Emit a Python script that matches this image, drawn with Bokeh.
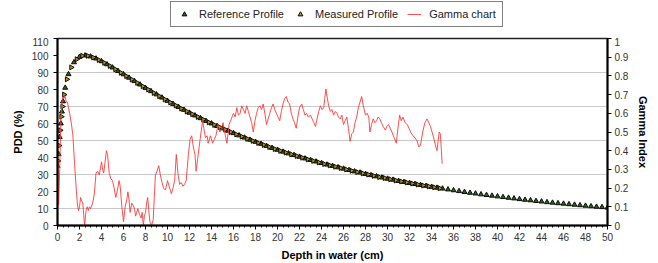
import math
from bokeh.plotting import figure
from bokeh.layouts import column
from bokeh.models import Range1d, LinearAxis, FixedTicker, Legend, LegendItem
from bokeh.embed import file_html
from bokeh.resources import INLINE

# ---------------- data ----------------
ref_depth = [0.0, 0.1, 0.2, 0.3, 0.4, 0.5, 0.7, 1.0, 1.5, 2.0, 2.5, 3.0, 3.5, 4.0, 4.5,
             5.0, 5.5, 6.0, 6.5, 7.0, 7.5, 8.0, 8.5, 9.0, 9.5, 10.0, 10.5, 11.0, 11.5,
             12.0, 12.5, 13.0, 13.5, 14.0, 14.5, 15.0, 15.5, 16.0, 16.5, 17.0, 17.5,
             18.0, 18.5, 19.0, 19.5, 20.0, 20.5, 21.0, 21.5, 22.0, 22.5, 23.0, 23.5,
             24.0, 24.5, 25.0, 25.5, 26.0, 26.5, 27.0, 27.5, 28.0, 28.5, 29.0, 29.5,
             30.0, 30.5, 31.0, 31.5, 32.0, 32.5, 33.0, 33.5, 34.0, 34.5, 35.0, 35.5,
             36.0, 36.5, 37.0, 37.5, 38.0, 38.5, 39.0, 39.5, 40.0, 40.5, 41.0, 41.5,
             42.0, 42.5, 43.0, 43.5, 44.0, 44.5, 45.0, 45.5, 46.0, 46.5, 47.0, 47.5,
             48.0, 48.5, 49.0, 49.5, 50.0]
ref_pdd = [35.0, 42.0, 52.0, 60.0, 67.0, 73.0, 81.0, 89.0, 96.0, 99.2, 100.0, 99.4, 98.2,
           96.6, 94.8, 92.9, 90.9, 88.9, 86.9, 84.9, 82.9, 80.9, 79.0, 77.1, 75.2, 73.3,
           71.5, 69.7, 68.0, 66.3, 64.7, 63.1, 61.5, 60.0, 58.5, 57.1, 55.7, 54.3, 53.0,
           51.7, 50.4, 49.2, 48.0, 46.8, 45.6, 44.5, 43.4, 42.4, 41.4, 40.4, 39.4, 38.5,
           37.6, 36.7, 35.8, 35.0, 34.2, 33.4, 32.6, 31.8, 31.1, 30.3, 29.6, 28.9, 28.2,
           27.5, 26.9, 26.2, 25.6, 25.0, 24.4, 23.8, 23.3, 22.7, 22.2, 21.7, 21.2, 20.7,
           20.2, 19.7, 19.2, 18.8, 18.3, 17.9, 17.5, 17.1, 16.7, 16.3, 15.9, 15.5, 15.1,
           14.8, 14.4, 14.1, 13.7, 13.4, 13.1, 12.8, 12.5, 12.2, 11.9, 11.6, 11.3, 11.0,
           10.8, 10.5]

meas_depth = [0.05, 0.15, 0.25, 0.35, 0.45, 0.6, 0.85, 1.25, 1.75, 2.25, 2.75, 3.25, 3.75,
              4.25, 4.75, 5.25, 5.75, 6.25, 6.75, 7.25, 7.75, 8.25, 8.75, 9.25, 9.75,
              10.25, 10.75, 11.25, 11.75, 12.25, 12.75, 13.25, 13.75, 14.25, 14.75,
              15.25, 15.75, 16.25, 16.75, 17.25, 17.75, 18.25, 18.75, 19.25, 19.75,
              20.25, 20.75, 21.25, 21.75, 22.25, 22.75, 23.25, 23.75, 24.25, 24.75,
              25.25, 25.75, 26.25, 26.75, 27.25, 27.75, 28.25, 28.75, 29.25, 29.75,
              30.25, 30.75, 31.25, 31.75, 32.25, 32.75, 33.25, 33.75, 34.25, 34.75]
meas_pdd = [38.0, 47.0, 56.0, 64.0, 70.0, 77.0, 86.0, 93.0, 97.8, 99.8, 99.8, 98.8, 97.4,
            95.7, 93.9, 91.9, 89.9, 87.9, 85.9, 83.9, 81.9, 80.0, 78.0, 76.1, 74.2, 72.4,
            70.6, 68.8, 67.1, 65.5, 63.9, 62.3, 60.7, 59.2, 57.8, 56.4, 55.0, 53.6, 52.3,
            51.0, 49.8, 48.6, 47.4, 46.2, 45.0, 43.9, 42.9, 41.9, 40.9, 39.9, 38.9, 38.0,
            37.1, 36.2, 35.4, 34.6, 33.8, 33.0, 32.2, 31.4, 30.7, 30.0, 29.2, 28.5, 27.9,
            27.2, 26.5, 25.9, 25.3, 24.7, 24.1, 23.5, 23.0, 22.5, 21.9]

gamma_depth = [0.0, 0.05, 0.1, 0.2, 0.3, 0.4, 0.5, 0.6, 0.7, 0.8, 0.9, 1.0, 1.1, 1.25, 1.4,
               1.55, 1.7, 1.8, 1.9, 2.0, 2.1, 2.2, 2.3, 2.46, 2.6, 2.7, 2.8, 2.9, 3.0, 3.2,
               3.35, 3.5, 3.65, 3.8, 4.0, 4.1, 4.2, 4.3, 4.45, 4.55, 4.7, 4.85, 5.0, 5.15,
               5.3, 5.45, 5.6, 5.7, 5.85, 6.0, 6.15, 6.3, 6.4, 6.5, 6.6, 6.75, 6.86, 7.0,
               7.1, 7.2, 7.3, 7.45, 7.6, 7.7, 7.8, 7.9, 8.0, 8.1, 8.2, 8.3, 8.4, 8.55, 8.7,
               8.8, 8.9, 9.05, 9.2, 9.35, 9.5, 9.65, 9.8, 9.9, 10.0, 10.2, 10.35, 10.5,
               10.65, 10.8, 10.95, 11.1, 11.25, 11.4, 11.55, 11.7, 11.9, 12.05, 12.2,
               12.35, 12.5, 12.6, 12.75, 12.9, 13.05, 13.2, 13.3, 13.45, 13.6, 13.7, 13.9,
               14.1, 14.25, 14.4, 14.6, 14.75, 14.9, 15.05, 15.2, 15.4, 15.6, 15.8, 16.0,
               16.15, 16.3, 16.45, 16.6, 16.75, 16.9, 17.05, 17.2, 17.35, 17.5, 17.65,
               17.8, 17.95, 18.1, 18.25, 18.4, 18.55, 18.7, 18.85, 19.0, 19.15, 19.3,
               19.45, 19.6, 19.75, 19.9, 20.05, 20.2, 20.35, 20.5, 20.65, 20.8, 20.95,
               21.1, 21.25, 21.4, 21.55, 21.7, 21.85, 22.0, 22.2, 22.35, 22.5, 22.65,
               22.8, 23.0, 23.15, 23.3, 23.45, 23.6, 23.75, 23.9, 24.05, 24.2, 24.3, 24.4,
               24.5, 24.65, 24.8, 24.95, 25.1, 25.25, 25.4, 25.55, 25.7, 25.85, 26.0,
               26.15, 26.3, 26.45, 26.6, 26.75, 26.9, 27.05, 27.2, 27.35, 27.5, 27.65,
               27.8, 28.0, 28.15, 28.3, 28.4, 28.55, 28.7, 28.85, 29.0, 29.15, 29.3,
               29.45, 29.6, 29.8, 29.95, 30.1, 30.25, 30.4, 30.6, 30.8, 30.95, 31.1,
               31.25, 31.4, 31.6, 31.8, 31.95, 32.1, 32.3, 32.5, 32.7, 32.85, 33.0, 33.2,
               33.4, 33.6, 33.75, 33.9, 34.05, 34.2, 34.35, 34.5, 34.6, 34.7, 34.8, 34.9,
               34.97]
gamma_index = [0.25, 0.34, 0.11, 0.30, 0.55, 0.66, 0.69, 0.68, 0.69, 0.66, 0.66, 0.63, 0.60,
               0.55, 0.48, 0.33, 0.20, 0.12, 0.08, 0.10, 0.15, 0.13, 0.12, 0.0, 0.08, 0.10,
               0.08, 0.10, 0.09, 0.12, 0.17, 0.28, 0.29, 0.27, 0.34, 0.30, 0.28, 0.33, 0.40,
               0.38, 0.28, 0.25, 0.24, 0.20, 0.15, 0.19, 0.24, 0.21, 0.10, 0.02, 0.10, 0.14,
               0.18, 0.14, 0.07, 0.12, 0.11, 0.09, 0.05, 0.07, 0.09, 0.06, 0.04, 0.07, 0.0,
               0.05, 0.07, 0.12, 0.15, 0.08, 0.02, 0.0, 0.03, 0.15, 0.27, 0.29, 0.32, 0.27,
               0.23, 0.20, 0.19, 0.21, 0.24, 0.20, 0.17, 0.20, 0.24, 0.38, 0.28, 0.22, 0.23,
               0.21, 0.22, 0.24, 0.38, 0.46, 0.48, 0.42, 0.38, 0.29, 0.36, 0.43, 0.50, 0.56,
               0.52, 0.47, 0.48, 0.44, 0.48, 0.44, 0.46, 0.48, 0.54, 0.50, 0.52, 0.55, 0.50,
               0.44, 0.54, 0.57, 0.60, 0.58, 0.63, 0.59, 0.60, 0.64, 0.62, 0.60, 0.64, 0.61,
               0.58, 0.55, 0.50, 0.56, 0.60, 0.63, 0.64, 0.62, 0.65, 0.60, 0.54, 0.57, 0.60,
               0.63, 0.65, 0.62, 0.60, 0.58, 0.56, 0.61, 0.65, 0.68, 0.69, 0.66, 0.65, 0.60,
               0.57, 0.55, 0.52, 0.58, 0.63, 0.65, 0.62, 0.59, 0.60, 0.58, 0.59, 0.57, 0.55,
               0.53, 0.57, 0.61, 0.64, 0.62, 0.63, 0.68, 0.73, 0.69, 0.64, 0.61, 0.62, 0.59,
               0.61, 0.60, 0.58, 0.57, 0.59, 0.54, 0.56, 0.58, 0.52, 0.45, 0.49, 0.50, 0.55,
               0.58, 0.63, 0.66, 0.69, 0.64, 0.59, 0.60, 0.58, 0.50, 0.54, 0.57, 0.55, 0.56,
               0.58, 0.57, 0.55, 0.53, 0.51, 0.53, 0.54, 0.52, 0.50, 0.47, 0.44, 0.52, 0.59,
               0.56, 0.58, 0.55, 0.54, 0.52, 0.50, 0.48, 0.47, 0.45, 0.42, 0.43, 0.50, 0.55,
               0.57, 0.55, 0.53, 0.50, 0.47, 0.43, 0.40, 0.45, 0.50, 0.49, 0.40, 0.33]

series_labels = ["Reference Profile", "Measured Profile", "Gamma chart"]
pdd_ticks = [0, 10, 20, 30, 40, 50, 60, 70, 80, 90, 100, 110]
grid_lines = [10, 30, 50, 70, 90]
gamma_ticks = [0, 0.1, 0.2, 0.3, 0.4, 0.5, 0.6, 0.7, 0.8, 0.9, 1]
depth_ticks = [0, 2, 4, 6, 8, 10, 12, 14, 16, 18, 20, 22, 24, 26, 28, 30, 32, 34, 36, 38,
               40, 42, 44, 46, 48, 50]

FONT = "Liberation Sans"
TICK_COLOR = "#333333"
REF_STYLE = dict(marker="triangle", size=5, fill_color="#2f6418",
                 line_color="#0a0a0a", line_width=1)
MEAS_STYLE = dict(marker="triangle", size=5, angle=-math.pi / 2, fill_color="#c98c12",
                  line_color="#0a0a0a", line_width=1)
GAM_STYLE = dict(line_color="#ff3b3b", line_width=1, line_alpha=0.9)

# ---------------- main figure ----------------
p = figure(width=658, height=226, output_backend="svg", toolbar_location=None,
           x_range=Range1d(0, 50), y_range=Range1d(0, 110),
           min_border_left=57, min_border_right=51, min_border_top=1, min_border_bottom=38)
p.extra_y_ranges = {"gamma": Range1d(0, 1)}

p.outline_line_color = "#222222"
p.outline_line_width = 1.5
p.background_fill_color = "white"
p.border_fill_color = "white"

p.xgrid.visible = False
p.ygrid.ticker = FixedTicker(ticks=grid_lines)
p.ygrid.grid_line_color = "#c8c8c8"
p.ygrid.grid_line_width = 1

xa = p.xaxis[0]
xa.ticker = FixedTicker(ticks=depth_ticks, minor_ticks=[i * 0.5 for i in range(101)])
xa.axis_label = "Depth in water (cm)"
ya = p.yaxis[0]
ya.ticker = FixedTicker(ticks=pdd_ticks)
ya.axis_label = "PDD (%)"
ra = LinearAxis(y_range_name="gamma", ticker=FixedTicker(ticks=gamma_ticks),
                axis_label="Gamma Index")
p.add_layout(ra, "right")

for ax in (xa, ya, ra):
    ax.axis_line_color = "black"
    ax.axis_line_width = 2
    ax.major_tick_line_color = "black"
    ax.major_tick_in = 0
    ax.major_tick_out = 4
    ax.minor_tick_line_color = None
    ax.major_label_text_font = FONT
    ax.major_label_text_font_size = "10px"
    ax.major_label_text_color = TICK_COLOR
    ax.axis_label_text_font = FONT
    ax.axis_label_text_font_size = "11px"
    ax.axis_label_text_font_style = "bold"
    ax.axis_label_text_color = "black"
xa.minor_tick_line_color = "black"
xa.minor_tick_in = 0
xa.minor_tick_out = 2
xa.major_label_standoff = 3
xa.axis_label_standoff = 5
ya.major_label_standoff = 5
ya.axis_label_standoff = 5
ra.major_label_standoff = 3
ra.axis_label_standoff = 6

p.scatter(ref_depth, ref_pdd, **REF_STYLE)
p.scatter(meas_depth, meas_pdd, **MEAS_STYLE)
p.line(gamma_depth, gamma_index, y_range_name="gamma", **GAM_STYLE)

# ---------------- legend strip: same series, view range kept away from data ----------------
lg = figure(width=658, height=37, output_backend="svg", toolbar_location=None,
            x_range=Range1d(1000, 1001), y_range=Range1d(1000, 1001),
            x_axis_location=None, y_axis_location=None, min_border=0)
lg.outline_line_color = None
lg.grid.visible = False
l_ref = lg.scatter(ref_depth, ref_pdd, **REF_STYLE)
l_meas = lg.scatter(meas_depth, meas_pdd, **MEAS_STYLE)
l_gam = lg.line(gamma_depth, gamma_index, **GAM_STYLE)

legend = Legend(items=[LegendItem(label=series_labels[0], renderers=[l_ref]),
                       LegendItem(label=series_labels[1], renderers=[l_meas]),
                       LegendItem(label=series_labels[2], renderers=[l_gam])],
                orientation="horizontal", location=(113, 10))
legend.label_text_font = FONT
legend.label_text_font_size = "11px"
legend.label_text_color = "#222222"
legend.glyph_width = 14
legend.glyph_height = 12
legend.label_standoff = 8
legend.spacing = 9
legend.padding = 6
legend.margin = 0
legend.border_line_color = "black"
legend.border_line_width = 1.5
legend.background_fill_color = "white"
legend.background_fill_alpha = 1
lg.add_layout(legend, "center")

layout = column(lg, p, spacing=0)
open("out.html", "w").write(file_html(layout, INLINE))
